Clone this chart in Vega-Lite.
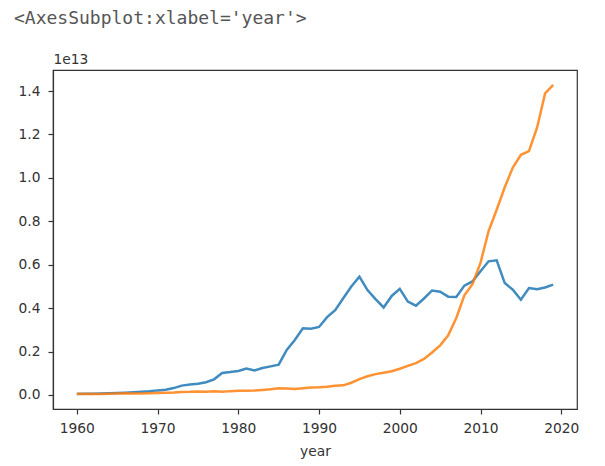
{
  "$schema": "https://vega.github.io/schema/vega-lite/v6.json",
  "width": 524,
  "height": 339,
  "autosize": {"type": "none"},
  "padding": {"left": 53, "top": 70, "right": 28, "bottom": 57},
  "background": "white",
  "title": {
    "text": "<AxesSubplot:xlabel='year'>",
    "font": "DejaVu Sans Mono",
    "fontSize": 18,
    "fontWeight": "normal",
    "color": "#555555",
    "anchor": "start",
    "frame": "group",
    "baseline": "alphabetic",
    "dx": -39,
    "offset": 10
  },
  "config": {
    "view": {"stroke": "#333333", "strokeWidth": 1.2},
    "axis": {
      "grid": false,
      "domainColor": "#333333",
      "domainWidth": 1.2,
      "tickColor": "#333333",
      "tickSize": 5,
      "tickWidth": 1.2,
      "labelFont": "DejaVu Sans",
      "labelFontSize": 13.8,
      "labelColor": "#333333",
      "labelPadding": 7,
      "titleFont": "DejaVu Sans",
      "titleFontSize": 13.8,
      "titleFontWeight": "normal",
      "titleColor": "#333333"
    }
  },
  "data": {
    "values": [
      {"year": 1960, "country": "Japan", "gdp": 44.3e9},
      {"year": 1961, "country": "Japan", "gdp": 53.5e9},
      {"year": 1962, "country": "Japan", "gdp": 60.7e9},
      {"year": 1963, "country": "Japan", "gdp": 69.5e9},
      {"year": 1964, "country": "Japan", "gdp": 81.7e9},
      {"year": 1965, "country": "Japan", "gdp": 91.0e9},
      {"year": 1966, "country": "Japan", "gdp": 105.6e9},
      {"year": 1967, "country": "Japan", "gdp": 123.8e9},
      {"year": 1968, "country": "Japan", "gdp": 146.6e9},
      {"year": 1969, "country": "Japan", "gdp": 172.2e9},
      {"year": 1970, "country": "Japan", "gdp": 212.6e9},
      {"year": 1971, "country": "Japan", "gdp": 240.2e9},
      {"year": 1972, "country": "Japan", "gdp": 318.0e9},
      {"year": 1973, "country": "Japan", "gdp": 432.1e9},
      {"year": 1974, "country": "Japan", "gdp": 479.6e9},
      {"year": 1975, "country": "Japan", "gdp": 521.5e9},
      {"year": 1976, "country": "Japan", "gdp": 586.2e9},
      {"year": 1977, "country": "Japan", "gdp": 721.4e9},
      {"year": 1978, "country": "Japan", "gdp": 1013.6e9},
      {"year": 1979, "country": "Japan", "gdp": 1055.0e9},
      {"year": 1980, "country": "Japan", "gdp": 1105.4e9},
      {"year": 1981, "country": "Japan", "gdp": 1219.0e9},
      {"year": 1982, "country": "Japan", "gdp": 1134.5e9},
      {"year": 1983, "country": "Japan", "gdp": 1243.3e9},
      {"year": 1984, "country": "Japan", "gdp": 1318.4e9},
      {"year": 1985, "country": "Japan", "gdp": 1398.9e9},
      {"year": 1986, "country": "Japan", "gdp": 2078.9e9},
      {"year": 1987, "country": "Japan", "gdp": 2532.8e9},
      {"year": 1988, "country": "Japan", "gdp": 3071.7e9},
      {"year": 1989, "country": "Japan", "gdp": 3054.9e9},
      {"year": 1990, "country": "Japan", "gdp": 3132.8e9},
      {"year": 1991, "country": "Japan", "gdp": 3584.4e9},
      {"year": 1992, "country": "Japan", "gdp": 3908.8e9},
      {"year": 1993, "country": "Japan", "gdp": 4454.1e9},
      {"year": 1994, "country": "Japan", "gdp": 4998.8e9},
      {"year": 1995, "country": "Japan", "gdp": 5449.1e9},
      {"year": 1996, "country": "Japan", "gdp": 4833.7e9},
      {"year": 1997, "country": "Japan", "gdp": 4414.7e9},
      {"year": 1998, "country": "Japan", "gdp": 4032.5e9},
      {"year": 1999, "country": "Japan", "gdp": 4562.1e9},
      {"year": 2000, "country": "Japan", "gdp": 4887.5e9},
      {"year": 2001, "country": "Japan", "gdp": 4303.5e9},
      {"year": 2002, "country": "Japan", "gdp": 4115.1e9},
      {"year": 2003, "country": "Japan", "gdp": 4445.7e9},
      {"year": 2004, "country": "Japan", "gdp": 4815.1e9},
      {"year": 2005, "country": "Japan", "gdp": 4755.4e9},
      {"year": 2006, "country": "Japan", "gdp": 4530.4e9},
      {"year": 2007, "country": "Japan", "gdp": 4515.3e9},
      {"year": 2008, "country": "Japan", "gdp": 5037.9e9},
      {"year": 2009, "country": "Japan", "gdp": 5231.4e9},
      {"year": 2010, "country": "Japan", "gdp": 5700.1e9},
      {"year": 2011, "country": "Japan", "gdp": 6157.5e9},
      {"year": 2012, "country": "Japan", "gdp": 6203.2e9},
      {"year": 2013, "country": "Japan", "gdp": 5155.7e9},
      {"year": 2014, "country": "Japan", "gdp": 4850.4e9},
      {"year": 2015, "country": "Japan", "gdp": 4389.5e9},
      {"year": 2016, "country": "Japan", "gdp": 4922.5e9},
      {"year": 2017, "country": "Japan", "gdp": 4866.9e9},
      {"year": 2018, "country": "Japan", "gdp": 4954.8e9},
      {"year": 2019, "country": "Japan", "gdp": 5081.8e9},
      {"year": 1960, "country": "China", "gdp": 59.7e9},
      {"year": 1961, "country": "China", "gdp": 50.1e9},
      {"year": 1962, "country": "China", "gdp": 47.2e9},
      {"year": 1963, "country": "China", "gdp": 50.7e9},
      {"year": 1964, "country": "China", "gdp": 59.7e9},
      {"year": 1965, "country": "China", "gdp": 70.4e9},
      {"year": 1966, "country": "China", "gdp": 76.7e9},
      {"year": 1967, "country": "China", "gdp": 72.9e9},
      {"year": 1968, "country": "China", "gdp": 70.8e9},
      {"year": 1969, "country": "China", "gdp": 79.7e9},
      {"year": 1970, "country": "China", "gdp": 92.6e9},
      {"year": 1971, "country": "China", "gdp": 99.8e9},
      {"year": 1972, "country": "China", "gdp": 113.7e9},
      {"year": 1973, "country": "China", "gdp": 138.5e9},
      {"year": 1974, "country": "China", "gdp": 144.2e9},
      {"year": 1975, "country": "China", "gdp": 163.4e9},
      {"year": 1976, "country": "China", "gdp": 153.9e9},
      {"year": 1977, "country": "China", "gdp": 174.9e9},
      {"year": 1978, "country": "China", "gdp": 149.5e9},
      {"year": 1979, "country": "China", "gdp": 178.3e9},
      {"year": 1980, "country": "China", "gdp": 191.1e9},
      {"year": 1981, "country": "China", "gdp": 195.9e9},
      {"year": 1982, "country": "China", "gdp": 205.1e9},
      {"year": 1983, "country": "China", "gdp": 230.7e9},
      {"year": 1984, "country": "China", "gdp": 259.9e9},
      {"year": 1985, "country": "China", "gdp": 309.5e9},
      {"year": 1986, "country": "China", "gdp": 300.8e9},
      {"year": 1987, "country": "China", "gdp": 273.0e9},
      {"year": 1988, "country": "China", "gdp": 312.4e9},
      {"year": 1989, "country": "China", "gdp": 347.8e9},
      {"year": 1990, "country": "China", "gdp": 360.9e9},
      {"year": 1991, "country": "China", "gdp": 383.4e9},
      {"year": 1992, "country": "China", "gdp": 426.9e9},
      {"year": 1993, "country": "China", "gdp": 444.7e9},
      {"year": 1994, "country": "China", "gdp": 564.3e9},
      {"year": 1995, "country": "China", "gdp": 734.5e9},
      {"year": 1996, "country": "China", "gdp": 863.7e9},
      {"year": 1997, "country": "China", "gdp": 961.6e9},
      {"year": 1998, "country": "China", "gdp": 1029.0e9},
      {"year": 1999, "country": "China", "gdp": 1094.0e9},
      {"year": 2000, "country": "China", "gdp": 1211.3e9},
      {"year": 2001, "country": "China", "gdp": 1339.4e9},
      {"year": 2002, "country": "China", "gdp": 1470.6e9},
      {"year": 2003, "country": "China", "gdp": 1660.3e9},
      {"year": 2004, "country": "China", "gdp": 1955.3e9},
      {"year": 2005, "country": "China", "gdp": 2286.0e9},
      {"year": 2006, "country": "China", "gdp": 2752.1e9},
      {"year": 2007, "country": "China", "gdp": 3550.3e9},
      {"year": 2008, "country": "China", "gdp": 4594.3e9},
      {"year": 2009, "country": "China", "gdp": 5101.7e9},
      {"year": 2010, "country": "China", "gdp": 6087.2e9},
      {"year": 2011, "country": "China", "gdp": 7551.5e9},
      {"year": 2012, "country": "China", "gdp": 8532.2e9},
      {"year": 2013, "country": "China", "gdp": 9570.4e9},
      {"year": 2014, "country": "China", "gdp": 10475.7e9},
      {"year": 2015, "country": "China", "gdp": 11061.6e9},
      {"year": 2016, "country": "China", "gdp": 11233.3e9},
      {"year": 2017, "country": "China", "gdp": 12310.4e9},
      {"year": 2018, "country": "China", "gdp": 13894.8e9},
      {"year": 2019, "country": "China", "gdp": 14279.9e9}
    ]
  },
  "mark": {"type": "line", "strokeWidth": 2.5, "opacity": 0.85},
  "encoding": {
    "x": {
      "field": "year",
      "type": "quantitative",
      "scale": {"domain": [1957.05, 2021.95], "nice": false, "zero": false},
      "axis": {
        "values": [1960, 1970, 1980, 1990, 2000, 2010, 2020],
        "format": "d",
        "title": "year",
        "titlePadding": 10
      }
    },
    "y": {
      "field": "gdp",
      "type": "quantitative",
      "scale": {"domain": [-0.0645e13, 1.497e13], "nice": false, "zero": false},
      "axis": {
        "values": [0, 2e12, 4e12, 6e12, 8e12, 1e13, 1.2e13, 1.4e13],
        "labelExpr": "format(datum.value / 1e13, '.1f')",
        "labelPadding": 8,
        "title": "1e13",
        "titleAngle": 0,
        "titleAlign": "left",
        "titleBaseline": "bottom",
        "titleX": 0,
        "titleY": -4
      }
    },
    "color": {
      "field": "country",
      "type": "nominal",
      "scale": {"domain": ["Japan", "China"], "range": ["#1f77b4", "#ff7f0e"]},
      "legend": null
    }
  }
}
